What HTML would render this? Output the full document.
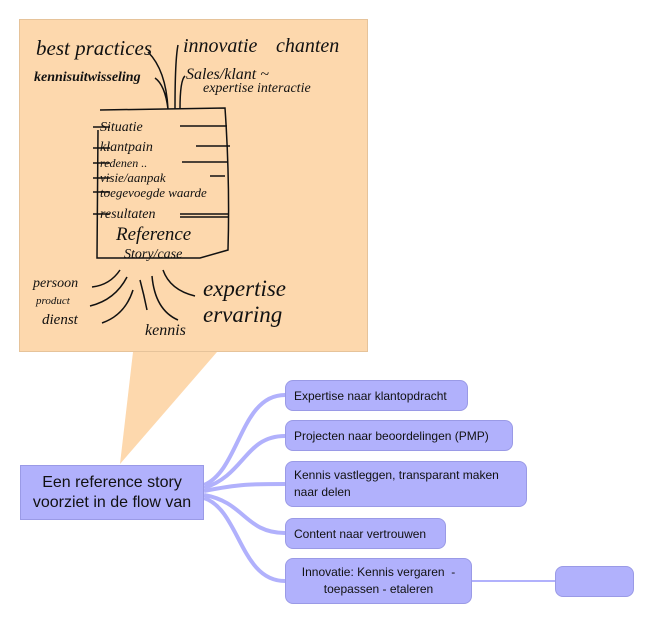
<!DOCTYPE html>
<html><head><meta charset="utf-8"><style>
html,body{margin:0;padding:0;background:#fff;width:650px;height:624px;overflow:hidden}
.n{position:absolute;background:#b1b1fc;border:1px solid #9a9ae6;border-radius:8px;font-family:"Liberation Sans",sans-serif;font-size:12px;color:#111;box-sizing:border-box;padding:0 8px;display:flex;align-items:center}
</style></head><body>
<svg width="650" height="624" style="position:absolute;left:0;top:0">
<polygon points="133,352 217,352 120,464" fill="#fdd8ad"/>
<rect x="19.5" y="19.5" width="348" height="332" fill="#fdd8ad" stroke="#e6c39a"/>
<g fill="#111" font-family="Liberation Serif,serif" font-style="italic">
<text x="36" y="55" font-size="21">best practices</text>
<text x="183" y="52" font-size="20">innovatie</text>
<text x="276" y="52" font-size="20">chanten</text>
<text x="34" y="81" font-size="14" font-weight="bold">kennisuitwisseling</text>
<text x="186" y="79" font-size="16">Sales/klant ~</text>
<text x="203" y="92" font-size="14">expertise interactie</text>
<text x="100" y="131" font-size="14">Situatie</text>
<text x="100" y="151" font-size="14">klantpain</text>
<text x="100" y="167" font-size="12">redenen ..</text>
<text x="100" y="182" font-size="13">visie/aanpak</text>
<text x="100" y="197" font-size="13">toegevoegde waarde</text>
<text x="100" y="218" font-size="14">resultaten</text>
<text x="116" y="240" font-size="19">Reference</text>
<text x="124" y="258" font-size="14">Story/case</text>
<text x="33" y="287" font-size="14">persoon</text>
<text x="36" y="304" font-size="11">product</text>
<text x="42" y="324" font-size="15">dienst</text>
<text x="203" y="296" font-size="23">expertise</text>
<text x="203" y="322" font-size="23">ervaring</text>
<text x="145" y="335" font-size="16">kennis</text>
</g>
<g fill="none" stroke="#111" stroke-width="1.5">
<path d="M100,110 L225,108 Q230,180 228,250 L200,258 L97,258 L98,130"/>
<path d="M93,127H110M180,126H227M93,148H110M196,146H230M93,163H110M182,162H228M93,178H110M210,176H225M93,192H110M93,214H110M180,214H228M180,217H228"/>
<path d="M168,109 Q166,70 148,52M168,109 Q165,85 155,78M175,109 Q175,60 178,45M180,109 Q180,80 185,76"/>
<path d="M92,287 Q110,285 120,270M90,306 Q115,300 127,277M102,323 Q125,315 133,290M147,310 Q144,295 140,280M178,320 Q155,310 152,276M195,296 Q170,290 163,270"/>
</g>
<g fill="none" stroke="#b1b1fc" stroke-width="4">
<path d="M204,485 C240,470 240,395 285,395"/>
<path d="M204,488 C245,475 245,436 285,436"/>
<path d="M204,491 C240,484 250,484 285,484"/>
<path d="M204,495 C245,502 245,533 285,533"/>
<path d="M204,498 C240,510 240,581 285,581"/>
</g>
<path d="M472,581H555" stroke="#b1b1fc" stroke-width="2"/>
</svg>
<div class="n" style="left:20px;top:465px;width:184px;height:55px;border-radius:0;font-size:16px;justify-content:center;text-align:center;line-height:20px">Een reference story voorziet in de flow van</div>
<div class="n" style="left:285px;top:380px;width:183px;height:31px">Expertise naar klantopdracht</div>
<div class="n" style="left:285px;top:420px;width:228px;height:31px">Projecten naar beoordelingen (PMP)</div>
<div class="n" style="left:285px;top:461px;width:242px;height:46px;line-height:17px">Kennis vastleggen, transparant maken naar delen</div>
<div class="n" style="left:285px;top:518px;width:161px;height:31px">Content naar vertrouwen</div>
<div class="n" style="left:285px;top:558px;width:187px;height:46px;line-height:17px;justify-content:center;text-align:center">Innovatie: Kennis vergaren &nbsp;- toepassen - etaleren</div>
<div class="n" style="left:555px;top:566px;width:79px;height:31px"></div>
</body></html>
